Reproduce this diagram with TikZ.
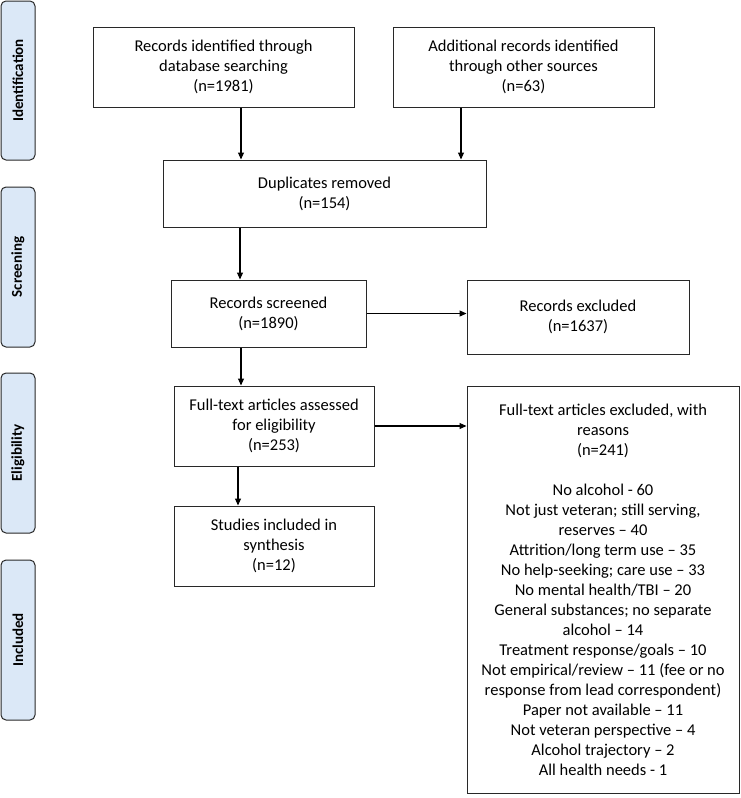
\documentclass[tikz,border=0pt]{standalone}
\usepackage{fontspec}
\setmainfont{Carlito}
\usetikzlibrary{arrows.meta,calc}
\definecolor{sidefill}{RGB}{219,232,247}
\definecolor{edge}{RGB}{40,40,40}
\tikzset{
  box/.style={draw=edge, line width=1pt, fill=white, align=center, inner sep=2pt,
    font=\fontsize{16.5}{20}\selectfont},
  side/.style={draw=edge, line width=1pt, fill=sidefill, rounded corners=5pt, rotate=90,
    minimum height=34pt, inner sep=0pt, font=\fontsize{15}{18}\selectfont\bfseries},
  arr/.style={draw=black, line width=1.1pt, -{Triangle[length=7pt,width=6pt]}}
}
\begin{document}
\begin{tikzpicture}[x=1pt,y=-1pt]
\useasboundingbox (0,0) rectangle (741,798);
% side phase labels
\node[side, minimum width=159pt] (sid) at (18,80.5) {Identification};
\node[side, minimum width=160pt] (ssc) at (18,267) {Screening};
\node[side, minimum width=160pt] (sel) at (18,453) {Eligibility};
\node[side, minimum width=160pt] (sin) at (18,640) {Included};
% boxes
\node[box, minimum width=261pt, minimum height=80pt] (rec) at (223.5,67) {Records identified through\\database searching\\(n=1981)};
\node[box, minimum width=261pt, minimum height=80pt] (add) at (523.5,67) {Additional records identified\\through other sources\\(n=63)};
\node[box, minimum width=323pt, minimum height=67pt] (dup) at (324.5,193.5) {Duplicates removed\\(n=154)};
\node[box, minimum width=195pt, minimum height=67pt] (scr) at (268.5,313.5) {Records screened\\(n=1890)};
\node[box, minimum width=222pt, minimum height=74pt] (exc) at (578,317) {Records excluded\\(n=1637)};
\node[box, minimum width=200pt, minimum height=80pt] (full) at (274,426) {Full-text articles assessed\\for eligibility\\(n=253)};
\node[box, minimum width=272pt, minimum height=407pt] (excr) at (603,589.5) {Full-text articles excluded, with\\reasons\\(n=241)\\[20pt]
No alcohol - 60\\
Not just veteran; still serving,\\
reserves -- 40\\
Attrition/long term use -- 35\\
No help-seeking; care use -- 33\\
No mental health/TBI -- 20\\
General substances; no separate\\
alcohol -- 14\\
Treatment response/goals -- 10\\
Not empirical/review -- 11 (fee or no\\
response from lead correspondent)\\
Paper not available -- 11\\
Not veteran perspective -- 4\\
Alcohol trajectory -- 2\\
All health needs - 1};
\node[box, minimum width=200pt, minimum height=80pt] (inc) at (274,546) {Studies included in\\synthesis\\(n=12)};
% arrow columns
\coordinate (c1) at (241,0);
\coordinate (c2) at (461,0);
\coordinate (c3) at (240,0);
\coordinate (c4) at (241,0);
\coordinate (c5) at (238,0);
\draw[arr] (c1 |- rec.south) -- (c1 |- dup.north);
\draw[arr] (c2 |- add.south) -- (c2 |- dup.north);
\draw[arr] (c3 |- dup.south) -- (c3 |- scr.north);
\draw[arr] (scr.east) -- (exc.west |- scr.east);
\draw[arr] (c4 |- scr.south) -- (c4 |- full.north);
\draw[arr] (full.east) -- (excr.west |- full.east);
\draw[arr] (c5 |- full.south) -- (c5 |- inc.north);
\end{tikzpicture}
\end{document}
